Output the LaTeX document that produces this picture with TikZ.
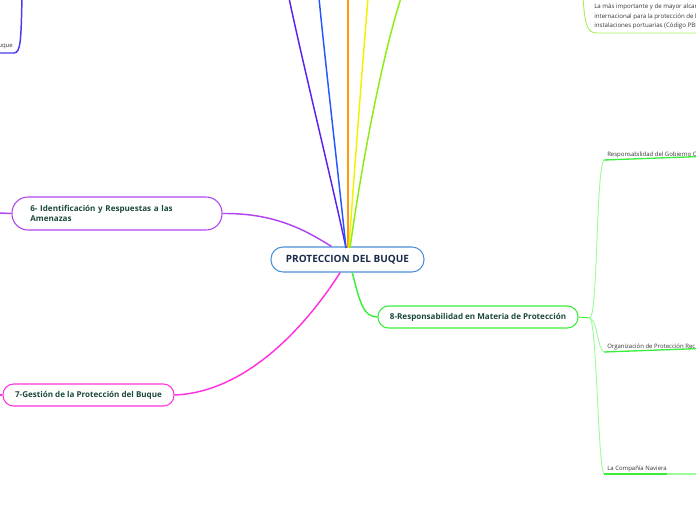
\documentclass[tikz,border=0pt]{standalone}
\usepackage{fontspec}
\setmainfont{Open Sans}
\usetikzlibrary{positioning}

\definecolor{rootdraw}{HTML}{4A8FD6}
\definecolor{roottext}{HTML}{1B2B4B}
\definecolor{topictext}{HTML}{1C4A3A}
\definecolor{violetline}{HTML}{5A22EE}
\definecolor{blueline}{HTML}{2458FF}
\definecolor{orangeline}{HTML}{FF9A0A}
\definecolor{yellowline}{HTML}{F2F200}
\definecolor{limeline}{HTML}{8CEE10}
\definecolor{purpleline}{HTML}{B144EE}
\definecolor{magentaline}{HTML}{FF33DD}
\definecolor{greenline}{HTML}{3BEE3B}
\definecolor{paleline}{HTML}{9CFC9C}
\definecolor{paletop}{HTML}{A8EE5A}
\definecolor{indigoline}{HTML}{4A3BF0}

\begin{document}
\begin{tikzpicture}[
        x=0.75pt, y=-0.75pt,
        root/.style={
            rectangle,
            draw=rootdraw,
            line width=0.8pt,
            rounded corners=9pt,
            fill=white,
            text=roottext,
            font=\bfseries\fontsize{7.5}{9}\selectfont,
            minimum width=114.75pt,
            minimum height=18.75pt,
            inner sep=0pt
        },
        topic/.style={
            rectangle,
            draw,
            line width=0.8pt,
            rounded corners=8pt,
            fill=white,
            text=topictext,
            font=\bfseries\fontsize{6.05}{7.8}\selectfont,
            minimum height=16.5pt,
            inner sep=0pt,
            align=center
        },
        leaf/.style={
            text=black!80,
            font=\fontsize{4.5}{7}\selectfont,
            inner sep=0pt
        },
        branch/.style={line width=1.1pt},
        twig/.style={line width=0.7pt}
    ]
        \clip (0,0) rectangle (696,520);

        % nodes
        \node [root] (root) at (347.5,259.5) {PROTECCION DEL BUQUE};
        \node [topic, draw=purpleline, minimum width=157.5pt, minimum height=24.75pt,
               rounded corners=12pt, align=left, text width=130pt] (threats) at (117,213.5)
              {6- Identificación y Respuestas a las\\Amenazas};
        \node [topic, draw=magentaline, minimum width=128.25pt] (management) at (88.5,395)
              {7-Gestión de la Protección del Buque};
        \node [topic, draw=greenline, minimum width=150pt] (duty) at (478,317)
              {8-Responsabilidad en Materia de Protección};

        \node [leaf, anchor=base west] (government) at (607,156.5) {Responsabilidad del Gobierno C};
        \node [leaf, anchor=base west] (recognized) at (607,348.5) {Organización de Protección Rec};
        \node [leaf, anchor=base west] (company) at (607,470.5) {La Compañía Naviera};
        \node [leaf, anchor=base east] (shipleft) at (13,47.5) {uque};
        \node [leaf, anchor=north west, align=left, font=\fontsize{4.6}{7}\selectfont] (code) at (594,4)
              {La más importante y de mayor alcan\\internacional para la protección de l\\instalaciones portuarias (Código PBI};

        % free ends
        \coordinate (hub) at (346,248);
        \coordinate (outA) at (289,-2);
        \coordinate (outB) at (319,-2);
        \coordinate (outC) at (348,-2);
        \coordinate (outD) at (368,-2);
        \coordinate (outE) at (401,-2);
        \coordinate (fork) at (590,318);
        \coordinate (govtline) at (604,160);
        \coordinate (recline) at (604,352);
        \coordinate (compline) at (604,474);
        \coordinate (leftA) at (-2,213);
        \coordinate (leftB) at (-2,395);
        \coordinate (leftC) at (-2,53);
        \coordinate (topL) at (22,-2);
        \coordinate (topR) at (583,-2);
        \coordinate (codeline) at (597,33);

        % paths
        \begin{scope}[branch]
        \draw [violetline] (hub) .. controls (335,195) and (302,60) .. (outA);
        \draw [blueline] (hub) .. controls (340,190) and (325,60) .. (outB);
        \draw [orangeline] ([xshift=1.5pt]hub) -- (outC);
        \draw [yellowline] ([xshift=2.2pt]hub) .. controls (353,190) and (362,70) .. (outD);
        \draw [limeline] ([xshift=3pt]hub) .. controls (358,190) and (378,70) .. (outE);
        \draw [purpleline] (threats.east) .. controls (275,213) and (305,230) .. ([xshift=-12pt]root.north);
        \draw [purpleline] (threats.west) -- (leftA);
        \draw [magentaline] (management.east) .. controls (250,392) and (310,320) .. ([xshift=-5.5pt]root.south);
        \draw [magentaline] (management.west) -- (leftB);
        \draw [greenline] ([xshift=3.5pt]root.south) .. controls (360,302) and (363,317) .. (duty.west);
        \draw [indigoline] (topL) .. controls (21,38) and (21,53) .. (14,53) -- (leftC);
        \end{scope}

        \begin{scope}[twig]
        \draw [greenline] (duty.east) -- (fork);
        \draw [paleline] (fork) .. controls (598,312) and (596,168) .. (govtline);
        \draw [paleline] (fork) .. controls (598,322) and (597,348) .. (recline);
        \draw [paleline] (fork) .. controls (597,326) and (598,468) .. (compline);
        \draw [greenline, line width=1pt] (govtline) -- (government.base west -| 700,160);
        \draw [greenline, line width=1pt] (recline) -- (recognized.base west -| 700,352);
        \draw [greenline, line width=1pt] (compline) -- (company.base east |- 0,474);
        \draw [paleline, line width=1pt] (company.base east |- 0,474) -- (700,474);
        \draw [paletop] (topR) .. controls (585,25) and (587,33) .. (codeline) -- (700,33);
        \end{scope}
\end{tikzpicture}
\end{document}
